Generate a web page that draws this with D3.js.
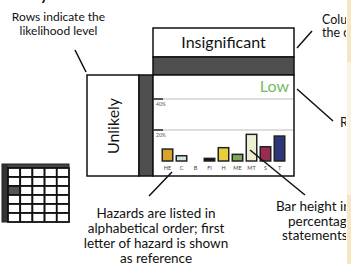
<!DOCTYPE html>
<html><head><meta charset="utf-8">
<script src="https://cdn.jsdelivr.net/npm/d3@7"></script>
<style>html,body{margin:0;padding:0;background:#fff;overflow:hidden}svg{display:block}text{font-family:Lato,"Open Sans",sans-serif}</style>
</head><body>
<script>
const hazards = ["HE","C","B","FI","H","ME","MT","S","T"];
const values = [7.7, 3.4, 0, 1.7, 8.6, 4.3, 17.2, 9.2, 16.1];
const barColors = ["#d9a42b","#cfe6e0","#ffffff","#111111","#e6cf3c","#7fa75a","#eeeed2","#9a2d4f","#2c3679"];
const yTicks = [20, 40];
const tickLabels = ["20%","40%"];
const columnLabel = "Insignificant";
const rowLabel = "Unlikely";
const riskLabel = "Low";

const W = 351, H = 264;
const svg = d3.select("body").append("svg").attr("width", W).attr("height", H);

// right strip
svg.append("rect").attr("x",347).attr("y",0).attr("width",4).attr("height",62).attr("fill","#f6e7c2");
svg.append("rect").attr("x",347).attr("y",62).attr("width",4).attr("height",133).attr("fill","#fbf3e2");
svg.append("rect").attr("x",347).attr("y",195).attr("width",4).attr("height",69).attr("fill","#f6e7c2");

svg.append("clipPath").attr("id","clipR").append("rect").attr("x",0).attr("y",0).attr("width",346).attr("height",H);
const g = svg.append("g").attr("clip-path","url(#clipR)");

// chart panel geometry
const pLeft = 153, pRight = 294, pTop = 75, pBottom = 176;
const x = d3.scaleBand().domain(hazards).range([160.5, 286.5]).paddingInner(0.25).paddingOuter(0.125);
const y = d3.scaleLinear().domain([0, 40]).range([161, 99]);

// header
g.append("rect").attr("x",pLeft).attr("y",28).attr("width",pRight-pLeft).attr("height",29).attr("fill","#fff").attr("stroke","#111").attr("stroke-width",1.5);
g.append("rect").attr("x",pLeft).attr("y",57).attr("width",pRight-pLeft).attr("height",18).attr("fill","#4f4f4f").attr("stroke","#111").attr("stroke-width",1.5);
g.append("text").attr("x",(pLeft+pRight)/2).attr("y",48).attr("text-anchor","middle").attr("font-size",16).attr("fill","#111").text(columnLabel);

// row label box
g.append("rect").attr("x",87).attr("y",pTop).attr("width",52).attr("height",pBottom-pTop).attr("fill","#fff").attr("stroke","#111").attr("stroke-width",1.5);
g.append("rect").attr("x",139).attr("y",pTop).attr("width",14).attr("height",pBottom-pTop).attr("fill","#4f4f4f").attr("stroke","#111").attr("stroke-width",1.5);
g.append("text").attr("transform","translate(119,126) rotate(-90)").attr("text-anchor","middle").attr("font-size",16).attr("fill","#111").text(rowLabel);

// chart area
g.append("rect").attr("x",pLeft).attr("y",pTop).attr("width",pRight-pLeft).attr("height",pBottom-pTop).attr("fill","#fff").attr("stroke","#111").attr("stroke-width",1.5);

g.append("text").attr("x",289).attr("y",92).attr("text-anchor","end").attr("font-size",16).attr("fill","#78b865").text(riskLabel);

// gridlines
const grid = g.append("g");
grid.selectAll("line.l").data(yTicks).join("line").attr("class","l").attr("x1",pLeft+1).attr("x2",pRight-1)
  .attr("y1",d=>y(d)).attr("y2",d=>y(d)).attr("stroke","#d2d2d2").attr("stroke-width",1.6);
grid.selectAll("line.d").data(yTicks).join("line").attr("class","d").attr("x1",pLeft).attr("x2",163)
  .attr("y1",d=>y(d)).attr("y2",d=>y(d)).attr("stroke","#333").attr("stroke-width",1.6);
grid.selectAll("text").data(yTicks).join("text").attr("x",156).attr("y",d=>y(d)+7)
  .attr("font-size",5).attr("fill","#555").text((d,i)=>tickLabels[i]);

// bars
g.append("g").selectAll("rect").data(hazards.map((h,i)=>({h,v:values[i],c:barColors[i]})).filter(d=>d.v>0)).join("rect")
  .attr("x",d=>x(d.h)).attr("width",x.bandwidth())
  .attr("y",d=>y(d.v)).attr("height",d=>y(0)-y(d.v))
  .attr("fill",d=>d.c).attr("stroke","#222").attr("stroke-width",1.5);

// hazard labels
g.append("g").selectAll("text").data(hazards).join("text")
  .attr("x",d=>x(d)+x.bandwidth()/2).attr("y",170).attr("text-anchor","middle")
  .attr("font-size",5.5).attr("fill","#444").text(d=>d);

// annotations
const ann = g.append("g").attr("fill","#111");
ann.append("text").attr("x",40).attr("y",0).attr("font-size",16).attr("font-weight","bold").text("y");
const t1 = ann.append("text").attr("text-anchor","middle").attr("font-size",12);
t1.append("tspan").attr("x",58.5).attr("y",21).text("Rows indicate the");
t1.append("tspan").attr("x",58.5).attr("y",35).text("likelihood level");
g.append("line").attr("x1",75).attr("y1",50).attr("x2",86).attr("y2",72).attr("stroke","#111").attr("stroke-width",1.5);

const t2 = ann.append("text").attr("font-size",12.5);
t2.append("tspan").attr("x",322).attr("y",24).text("Columns indicate");
t2.append("tspan").attr("x",322).attr("y",37).text("the consequence");
g.append("line").attr("x1",297).attr("y1",48).attr("x2",312).attr("y2",31).attr("stroke","#111").attr("stroke-width",1.5);

ann.append("text").attr("x",340).attr("y",127).attr("font-size",13).text("Risk level");
g.append("line").attr("x1",297).attr("y1",89).attr("x2",333).attr("y2",121).attr("stroke","#111").attr("stroke-width",1.5);

const t3 = ann.append("text").attr("text-anchor","middle").attr("font-size",13.5);
["Hazards are listed in","alphabetical order; first","letter of hazard is shown","as reference"].forEach((s,i)=>
  t3.append("tspan").attr("x",156).attr("y",217.5+i*15.3).text(s));
g.append("line").attr("x1",172).attr("y1",172).attr("x2",149).attr("y2",196).attr("stroke","#111").attr("stroke-width",1.5);

const t4 = ann.append("text").attr("font-size",13.5);
t4.append("tspan").attr("x",276).attr("y",211).text("Bar height indicates");
t4.append("tspan").attr("x",288).attr("y",225.5).text("percentage of");
t4.append("tspan").attr("x",282).attr("y",240).text("statements");
g.append("line").attr("x1",250).attr("y1",150).attr("x2",305).attr("y2",195).attr("stroke","#111").attr("stroke-width",1.5);

// mini grid icon
const mini = g.append("g");
const mx0 = 8, mx1 = 69, my0 = 168, my1 = 222, nCols = 5, nRows = 6;
const mcx = d3.scaleBand().domain(d3.range(nCols)).range([mx0, mx1]);
const mcy = d3.scaleBand().domain(d3.range(nRows)).range([my0, my1]);
mini.append("rect").attr("x",2).attr("y",164).attr("width",67).attr("height",4).attr("fill","#444");
mini.append("rect").attr("x",2).attr("y",164).attr("width",6).attr("height",58).attr("fill","#333");
const cells = [];
d3.range(nRows).forEach(r=>d3.range(nCols).forEach(c=>cells.push({r,c})));
mini.selectAll("rect.cell").data(cells).join("rect").attr("class","cell")
  .attr("x",d=>mcx(d.c)).attr("y",d=>mcy(d.r)).attr("width",mcx.bandwidth()).attr("height",mcy.bandwidth())
  .attr("fill",d=>(d.r===2&&d.c===0)?"#555":"#fff").attr("stroke","#111").attr("stroke-width",1.8);
mini.append("rect").attr("x",2).attr("y",164).attr("width",67).attr("height",58).attr("fill","none").attr("stroke","#222").attr("stroke-width",1);
</script>
</body></html>
